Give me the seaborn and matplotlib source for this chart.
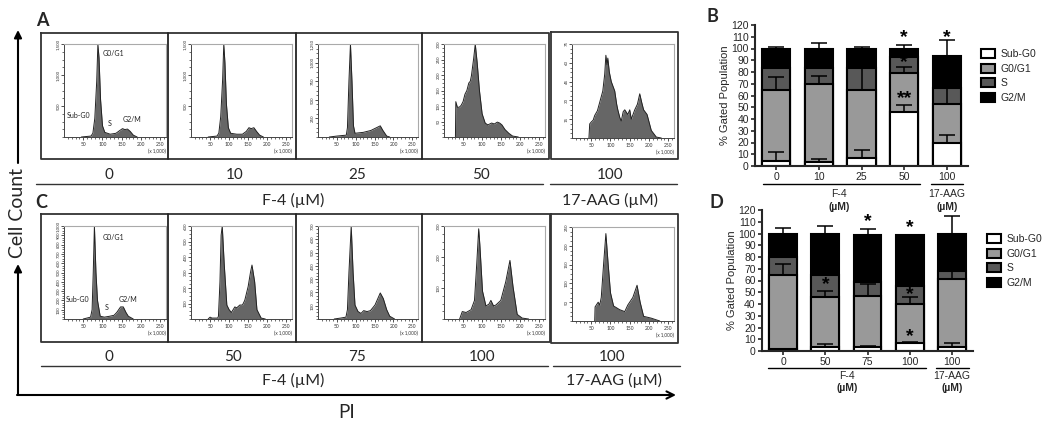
import numpy as np
import pandas as pd
import seaborn as sns
import matplotlib.pyplot as plt

sns.set_style("white")
plt.rcParams["font.family"] = ["Lato", "DejaVu Sans"]

W, H = 1050, 429

# histogram traces, PI (x 1,000) against % of the panel height
a0_pi = [45, 70, 75, 80, 85, 88, 91, 95, 100, 106, 120, 135, 145, 152, 158, 165, 172, 180, 190]
a0_h = [0, 1, 4, 20, 60, 100, 85, 40, 12, 5, 3, 4, 7, 9, 8, 8.5, 6, 2, 0]
a1_pi = [45, 68, 73, 78, 83, 86, 89, 93, 98, 104, 120, 135, 145, 152, 158, 165, 172, 180, 190]
a1_h = [0, 1, 4, 22, 62, 100, 80, 35, 10, 4, 3, 3, 6, 10, 9, 10, 6, 2, 0]
a2_pi = [30, 50, 75, 78, 82, 86, 90, 94, 98, 120, 140, 155, 165, 172, 182, 190]
a2_h = [0, 1, 2, 10, 60, 100, 60, 12, 4, 5, 7, 10, 12, 7, 1, 0]
a3_pi = [30, 31, 35, 40, 45, 50, 55, 60, 65, 69, 72, 78, 82, 87, 93, 100, 108, 115, 125, 132, 140, 146, 152, 160, 170, 180, 195]
a3_h = [0, 38, 32, 32, 34, 38, 46, 50, 58, 60, 66, 85, 100, 80, 50, 25, 15, 13, 15, 14, 16, 15, 13, 8, 4, 1, 0]
a4_pi = [44, 46, 50, 55, 59, 66, 72, 80, 85, 88, 91, 93, 97, 102, 111, 116, 119, 124, 128, 133, 137, 145, 150, 154, 163, 170, 176, 181, 186, 195, 206, 219, 232]
a4_h = [0, 15, 17, 19, 24, 29, 38, 50, 68, 88, 78, 85, 70, 60, 50, 36, 30, 22, 18, 28, 30, 25, 30, 20, 30, 36, 47, 38, 30, 25, 8, 1, 0]
c0_pi = [50, 69, 73, 76, 79, 83, 87, 94, 105, 119, 130, 137, 147, 154, 161, 167, 180]
c0_h = [0, 2, 10, 50, 100, 50, 20, 3, 2, 3, 4, 7, 13, 13, 7, 3, 0]
c1_pi = [45, 50, 55, 70, 72, 76, 79, 82, 87, 94, 100, 106, 115, 120, 128, 135, 141, 150, 156, 160, 167, 173, 184, 195]
c1_h = [0, 2, 1, 1, 3, 40, 90, 100, 60, 15, 10, 7, 13, 12, 15, 15, 20, 35, 50, 58, 40, 10, 1, 0]
c2_pi = [43, 60, 74, 78, 82, 88, 93, 98, 106, 114, 121, 130, 139, 151, 165, 173, 182, 190, 203]
c2_h = [0, 1, 2, 10, 50, 100, 50, 15, 8, 6, 9, 8, 9, 15, 28, 22, 10, 3, 0]
c3_pi = [41, 48, 58, 71, 80, 86, 91, 94, 101, 110, 118, 123, 130, 136, 149, 162, 173, 181, 192, 205, 222]
c3_h = [0, 8, 7, 10, 20, 60, 97, 80, 30, 14, 16, 20, 14, 15, 20, 40, 63, 35, 5, 1, 0]
c4_pi = [59, 60, 68, 72, 76, 82, 88, 94, 100, 108, 124, 137, 145, 158, 169, 177, 186, 206, 228]
c4_h = [0, 15, 20, 17, 25, 60, 93, 60, 30, 16, 12, 10, 17, 25, 38, 20, 5, 3, 0]

# y axis top and tick step of each histogram
hist_ymax = [1500, 1500, 1250, 300, 75, 1000, 600, 700, 300, 250]
hist_step = [500, 500, 250, 50, 15, 100, 100, 100, 100, 50]

pi_ticks = [50, 100, 150, 200, 250]
row_labels_a = ["0", "10", "25", "50", "100"]
row_labels_c = ["0", "50", "75", "100", "100"]
gate_labels = ["Sub-G0", "G0/G1", "S", "G2/M"]

# stacked bars: cumulative top of each phase, and the top of its error bar
b_labels = ["0", "10", "25", "50", "100"]
b_sub = [4, 3, 7, 46, 20]
b_g0 = [65, 70, 65, 79, 53]
b_s = [83, 83, 83, 93, 66]
b_g2 = [100, 100, 100, 100, 94]
b_sub_err = [12, 6, 14, 52, 26]
b_g0_err = [76, 77, 83, 84, 66]
b_g2_err = [101, 105, 101, 103, 107]

d_labels = ["0", "50", "75", "100", "100"]
d_sub = [2, 3, 3, 7, 3]
d_g0 = [65, 46, 47, 40, 61]
d_s = [80, 65, 59, 55, 68]
d_g2 = [100, 100, 99, 99, 100]
d_sub_err = [2, 6, 4, 8, 7]
d_g0_err = [74, 51, 57, 46, 68]
d_g2_err = [105, 106, 104, 99, 115]

bar_colors = ["white", "#999999", "#585858", "black"]


def px_axes(x0, y0, x1, y1, **kw):
    return fig.add_axes([x0 / W, 1 - y1 / H, (x1 - x0) / W, (y1 - y0) / H], **kw)


def draw_hist(rect, pi, h, ymax, step):
    ax = px_axes(*rect)
    heights = np.array(h) * ymax / 100
    ax.fill_between(pi, heights, color="#666666", lw=0)
    sns.lineplot(x=pi, y=heights, ax=ax, color="#222222", lw=0.7, sort=False, estimator=None)
    ax.set_xlim(0, 265)
    ax.set_ylim(0, ymax)
    ax.set_xticks(pi_ticks)
    ax.set_xticks(np.arange(10, 265, 10), minor=True)
    yt = np.arange(step, ymax + 1, step)
    ax.set_yticks(yt)
    ax.set_yticks(np.arange(0, ymax + 1, step / 4), minor=True)
    ax.set_yticklabels([f"{v:,}" for v in yt], rotation=90, va="center", fontsize=3.2, color="#333333")
    ax.tick_params(axis="x", labelsize=3.5, labelcolor="#333333", length=2, width=0.6, pad=1.5, bottom=True, color="#333333")
    ax.tick_params(axis="y", length=2, width=0.6, pad=0.5, left=True, color="#333333")
    ax.tick_params(which="minor", length=1.5, width=0.5, bottom=True, left=True, color="#333333")
    for s in ["top", "right"]:
        ax.spines[s].set_color("#aaaaaa")
        ax.spines[s].set_linewidth(0.8)
    for s in ["left", "bottom"]:
        ax.spines[s].set_color("#444444")
        ax.spines[s].set_linewidth(0.7)
    ax.text(1.0, -0.155, "(x 1,000)", transform=ax.transAxes, ha="right", va="center", fontsize=3.3, color="#333333")
    return ax


def draw_stack(rect, labels, sub, g0, s, g2, sub_err, g0_err, g2_err, legend_at):
    ax = px_axes(*rect)
    pos = np.arange(len(labels))
    # tallest phase first, the lower ones paint over it
    for tops, col, name in zip([g2, s, g0, sub], bar_colors[::-1], gate_labels[::-1]):
        df = pd.DataFrame({"pos": pos, "top": tops})
        sns.barplot(data=df, x="pos", y="top", color=col, saturation=1, width=0.66,
                    edgecolor="black", linewidth=1.5, ax=ax, label=name)
    for tops, err in [(sub, sub_err), (g0, g0_err), (g2, g2_err)]:
        tops = np.array(tops, dtype=float)
        ax.errorbar(pos, tops, yerr=[np.zeros(5), np.array(err) - tops], fmt="none", ecolor="black",
                    elinewidth=1.1, capsize=6, capthick=1.1, zorder=5)
    ax.set_xlim(-0.5, 4.5)
    ax.set_ylim(0, 120)
    ax.set_yticks(np.arange(0, 121, 10))
    ax.set_xticks(pos)
    ax.set_xticklabels(labels)
    ax.set_xlabel("")
    ax.set_ylabel("% Gated Population", fontsize=8, family="Liberation Sans", labelpad=1)
    ax.tick_params(length=3, width=1.2, bottom=True, left=True, pad=1.5, labelsize=7.5)
    for t in ax.get_xticklabels() + ax.get_yticklabels():
        t.set_family("Liberation Sans")
    sns.despine(ax=ax)
    ax.spines["left"].set_linewidth(1.5)
    ax.spines["bottom"].set_linewidth(1.5)
    h, l = ax.get_legend_handles_labels()
    ax.legend(h[::-1], l[::-1], loc="upper left", bbox_to_anchor=legend_at, bbox_transform=fig.transFigure,
              frameon=False, prop={"family": "Liberation Sans", "size": 7.5}, labelspacing=0.43,
              handlelength=1.35, handleheight=0.95, handletextpad=0.5, borderpad=0, borderaxespad=0)
    return ax


fig = plt.figure(figsize=(W / 100, H / 100), dpi=100, facecolor="white")

hist_x = [(64, 166), (191, 292), (318, 418), (444, 545), (572, 674)]
traces = [(a0_pi, a0_h), (a1_pi, a1_h), (a2_pi, a2_h), (a3_pi, a3_h), (a4_pi, a4_h),
          (c0_pi, c0_h), (c1_pi, c1_h), (c2_pi, c2_h), (c3_pi, c3_h), (c4_pi, c4_h)]
for i, (pi, h) in enumerate(traces):
    x0, x1 = hist_x[i % 5]
    y0, y1 = (44, 137) if i < 5 else (226, 319)
    if i == 4:
        y1 = 138
    if i == 9:
        y0, y1 = 227, 321
    draw_hist((x0, y0, x1, y1), pi, h, hist_ymax[i], hist_step[i])

ax_b = draw_stack((755, 25, 968, 166), b_labels, b_sub, b_g0, b_s, b_g2, b_sub_err, b_g0_err, b_g2_err,
                  (981 / W, 1 - 49 / H))
ax_d = draw_stack((762, 210, 973, 351), d_labels, d_sub, d_g0, d_s, d_g2, d_sub_err, d_g0_err, d_g2_err,
                  (987 / W, 1 - 234 / H))

# significance marks
for ax, xs, ys, marks in [
    (ax_b, [3, 4, 3, 3], [111, 111, 90, 59], ["*", "*", "*", "**"]),
    (ax_d, [2, 3, 1, 3, 3], [112, 107, 58, 50, 14], ["*", "*", "*", "*", "*"]),
]:
    for x, y, m in zip(xs, ys, marks):
        ax.text(x, y, m, ha="center", va="center_baseline", fontsize=14, family="Liberation Sans",
                color="black", weight="bold", zorder=6)

# overlay in pixel coordinates for the frame, rules and panel captions
ov = fig.add_axes([0, 0, 1, 1], zorder=10)
ov.set_xlim(0, W)
ov.set_ylim(H, 0)
ov.axis("off")
ov.patch.set_alpha(0)

for top, bot, xs in [(33, 159, [41, 168, 296, 422, 549]), (214, 342, [41, 168, 296, 422, 550])]:
    ov.plot([xs[0], xs[4], xs[4], xs[0], xs[0]], [top, top, bot, bot, top], color="#333333", lw=1.3)
    for x in xs[1:4]:
        ov.plot([x, x], [top, bot], color="#222222", lw=1.3)
ov.plot([551, 678, 678, 551, 551], [32, 32, 159, 159, 32], color="#333333", lw=1.3)
ov.plot([551, 678, 678, 551, 551], [214, 214, 343, 343, 214], color="#333333", lw=1.3)

cap_x = [109, 235, 357, 481, 610]
cap_x2 = [109, 233, 357, 482, 612]
for x, t in zip(cap_x, row_labels_a):
    ov.text(x, 175, t, ha="center", va="center", fontsize=11)
for x, t in zip(cap_x2, row_labels_c):
    ov.text(x, 357, t, ha="center", va="center", fontsize=11)
for x0, x1, y in [(36, 543, 184), (550, 677, 184), (41, 548, 366), (553, 680, 366)]:
    ov.plot([x0, x1], [y, y], color="#333333", lw=1)
ov.text(293, 200, "F-4 (µM)", ha="center", va="center", fontsize=11.5)
ov.text(610, 200, "17-AAG (µM)", ha="center", va="center", fontsize=11.5)
ov.text(293, 380, "F-4 (µM)", ha="center", va="center", fontsize=11.5)
ov.text(614, 380, "17-AAG (µM)", ha="center", va="center", fontsize=11.5)

for x, y, t in [(42, 20, "A"), (41, 202, "C"), (712, 17, "B"), (716, 202, "D")]:
    ov.text(x, y, t, ha="center", va="center", fontsize=13, weight="bold")

for (x, y), t in zip([(79, 116), (113, 54), (110, 124), (132, 120)], gate_labels):
    ov.text(x, y, t, ha="center", va="center", fontsize=5, color="#222222")
for (x, y), t in zip([(78, 300), (113, 238), (107, 308), (128, 300)], gate_labels):
    ov.text(x, y, t, ha="center", va="center", fontsize=5, color="#222222")

# big axes arrows
arrow = dict(arrowstyle="-|>", color="black", lw=1.5, mutation_scale=11, shrinkA=0, shrinkB=0)
ov.annotate("", xy=(18, 30), xytext=(18, 163), arrowprops=arrow)
ov.annotate("", xy=(18, 264), xytext=(18, 395), arrowprops=arrow)
ov.annotate("", xy=(676, 395), xytext=(17, 395),
            arrowprops=dict(arrowstyle="->", color="black", lw=1.5, mutation_scale=13, shrinkA=0, shrinkB=0))
ov.text(18, 213, "Cell Count", rotation=90, ha="center", va="center", fontsize=14)
ov.text(347, 412, "PI", ha="center", va="center", fontsize=13.5)

# brackets and captions under the bar charts
for x0, x1, y in [(763, 920, 184), (931, 963, 184), (768, 926, 368), (936, 969, 368)]:
    ov.plot([x0, x1], [y, y], color="black", lw=1)
for x, y1, y2, t in [(839, 194, 207, "F-4"), (947, 194, 207, "17-AAG"), (847, 376, 388, "F-4"), (952, 376, 388, "17-AAG")]:
    ov.text(x, y1, t, ha="center", va="center", fontsize=7.5, family="Liberation Sans")
    ov.text(x, y2, "(µM)", ha="center", va="center", fontsize=7.5, family="Liberation Sans", weight="bold")

fig.savefig("out.png", dpi=100)
